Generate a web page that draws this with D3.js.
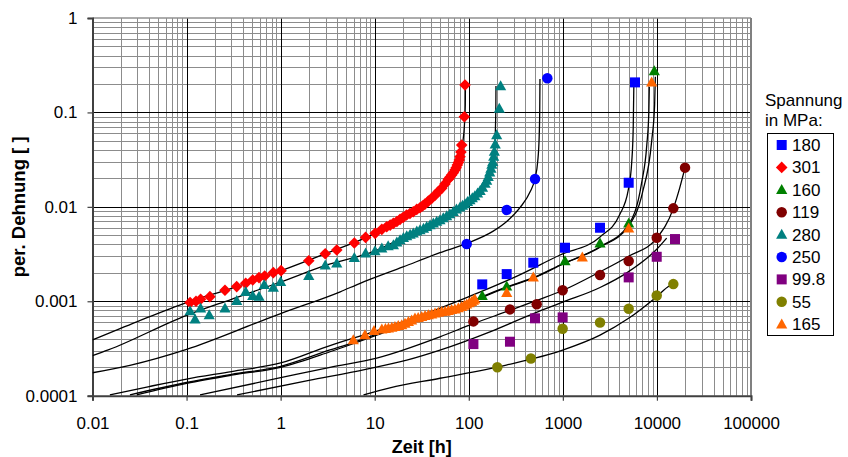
<!DOCTYPE html>
<html><head><meta charset="utf-8">
<script src="https://cdn.jsdelivr.net/npm/d3@7"></script>
<style>
body{margin:0;background:#fff}
svg{display:block}
text{font-family:"Liberation Sans",Arial,sans-serif;fill:#000}
</style>
</head><body>
<svg id="c" width="848" height="457"></svg>
<script>
// ---------- axis ticks ----------
const xTicks=[0.01,0.1,1,10,100,1000,10000,100000];
const xTickLabels=["0.01","0.1","1","10","100","1000","10000","100000"];
const yTicks=[0.0001,0.001,0.01,0.1,1];
const yTickLabels=["0.0001","0.001","0.01","0.1","1"];
const xTitle="Zeit [h]";
const yTitle="per. Dehnung [ ]";
const legendTitle=["Spannung","in MPa:"];

// ---------- series (legend order) ----------
const seriesNames=["180","301","160","119","280","250","99.8","55","165"];
const seriesColors=["#0000FF","#FF0000","#008000","#800000","#008080","#0000FF","#800080","#808000","#FF6600"];
const seriesShapes=["square","diamond","triangle","circle","triangle","circle","square","circle","triangle"];

// measured points [t (h), strain]
const pts180=[[139,0.00151],[253,0.00194],[485,0.00256],[1054,0.00369],[2484,0.00601],[5010,0.018],[5850,0.208]];
const pts301=[[0.109,0.00097],[0.126,0.001],[0.141,0.00105],[0.177,0.00112],[0.256,0.00131],[0.341,0.00143],[0.425,0.00155],[0.505,0.00168],[0.589,0.00178],[0.677,0.00185],[0.836,0.00201],[1.01,0.00211],[1.99,0.00269],[2.98,0.00319],[3.95,0.00349],[6.07,0.00414],[8.0,0.00475],[10.1,0.00524],[11.9,0.00578],[13.4,0.00615],[14.6,0.00641],[15.8,0.00669],[17.2,0.0070],[18.6,0.00737],[20.1,0.00774],[21.8,0.0082],[23.7,0.0085],[25.7,0.00887],[28,0.0094],[30.3,0.00978],[32.2,0.0102],[34.2,0.0107],[37.2,0.0115],[40.3,0.0123],[43.8,0.0133],[47.5,0.0145],[51.5,0.0157],[55.8,0.0175],[60.6,0.0196],[63,0.0206],[65.7,0.0217],[68.5,0.023],[71.3,0.0245],[73.5,0.026],[75.5,0.0277],[77.5,0.0295],[79.3,0.0313],[80.7,0.034],[82.5,0.038],[84.1,0.0451],[89.7,0.09],[91.2,0.195]];
const pts160=[[139,0.00114],[253,0.00144],[1054,0.00267],[2484,0.0041],[5010,0.00668],[9380,0.275]];
const pts119=[[112,0.000612],[274,0.00082],[527,0.00093],[995,0.00131],[2484,0.0019],[5010,0.00267],[9950,0.00471],[14940,0.00964],[19900,0.026]];
const pts280=[[0.109,0.00079],[0.123,0.000643],[0.141,0.00084],[0.174,0.000714],[0.256,0.00084],[0.341,0.00101],[0.425,0.00126],[0.505,0.00114],[0.589,0.00112],[0.669,0.00149],[0.836,0.0014],[1.0,0.00161],[1.99,0.00186],[2.98,0.0024],[3.95,0.00252],[6.07,0.00289],[8.0,0.00322],[10.07,0.0034],[11.9,0.00363],[13.9,0.00385],[15.8,0.00394],[17.2,0.0042],[18.6,0.00445],[20.2,0.0047],[21.9,0.00491],[23.8,0.0051],[25.7,0.00524],[28,0.0055],[30.3,0.00568],[33,0.0059],[35.7,0.00615],[38.8,0.0064],[42,0.00668],[45.6,0.0070],[49.4,0.00725],[53.6,0.0076],[58.2,0.008],[63,0.0084],[68.4,0.00887],[74,0.0094],[80.7,0.00987],[85.8,0.0103],[91.2,0.0107],[97,0.0113],[103,0.0118],[109,0.0124],[116,0.013],[124,0.0139],[132,0.0148],[140,0.016],[149,0.0177],[155,0.019],[161,0.0208],[167,0.0232],[172,0.0255],[176,0.028],[180,0.03],[184,0.034],[187,0.0384],[191,0.046],[198,0.0576],[211,0.11],[218,0.19]];
const pts250=[[95,0.00404],[253,0.00925],[506,0.0197],[684,0.23]];
const pts99_8=[[112,0.000352],[274,0.000373],[506,0.00066],[995,0.000675],[5010,0.00179],[9950,0.00296],[15560,0.00456]];
const pts55=[[201,0.0002],[458,0.000248],[995,0.000511],[2484,0.000597],[5010,0.000834],[9950,0.00115],[14940,0.00152]];
const pts165=[[5.92,0.000388],[7.88,0.000438],[9.82,0.000487],[11.9,0.000504],[13,0.00051],[14,0.000517],[15.2,0.000527],[16.4,0.000537],[17.8,0.00055],[19.4,0.00056],[21,0.00058],[22.8,0.000607],[24.7,0.00063],[26.8,0.000659],[29,0.00067],[31.6,0.000686],[34.3,0.0007],[37.2,0.000714],[40.4,0.00073],[43.8,0.000744],[47.5,0.00076],[51.5,0.000775],[56,0.00078],[60.6,0.000793],[65.7,0.00081],[71.3,0.00082],[77.5,0.00085],[84.1,0.000875],[89.5,0.0009],[95,0.000927],[101,0.00096],[107,0.000989],[112,0.00102],[116,0.00105],[253,0.00123],[485,0.00179],[1610,0.00292],[5010,0.00592],[8790,0.208]];

// fitted curves, knots [t, strain]
const fit180=[[0.0153,0.000102],[0.04,0.000125],[0.1,0.00015],[0.3,0.00018],[1,0.000222],[3.35,0.00034],[10,0.00048],[30,0.0007],[100,0.00112],[139,0.00128],[300,0.00178],[934,0.00309],[2484,0.0048],[4000,0.0082],[4960,0.0151],[5400,0.03],[5600,0.07],[5680,0.187]];
const fit301=[[0.01,0.00039],[0.03,0.00061],[0.1,0.00097],[0.3,0.00137],[1,0.0021],[3,0.0032],[10,0.0052],[20,0.0076],[30,0.0098],[45,0.0138],[60,0.0195],[70,0.024],[80,0.033],[86,0.047],[90,0.075],[91.8,0.12],[92.2,0.205]];
const fit160=[[0.0295,0.000102],[0.1,0.000135],[0.3,0.000165],[1,0.0002],[3.35,0.000292],[5.9,0.000355],[10,0.00043],[30,0.00064],[100,0.00096],[139,0.0011],[253,0.0014],[500,0.00178],[934,0.0024],[2484,0.00375],[4960,0.0062],[7000,0.014],[8800,0.05],[9450,0.12],[9620,0.239]];
const fit119=[[0.139,0.000102],[1,0.000155],[3.35,0.0002],[10.5,0.00025],[49.4,0.00042],[112,0.00058],[274,0.0008],[527,0.00102],[995,0.0013],[2484,0.00205],[5010,0.003],[9950,0.00466],[14940,0.00964],[17500,0.016],[19900,0.026]];
const fit280=[[0.01,0.000265],[0.0147,0.000305],[0.1,0.00071],[0.3,0.00105],[1,0.0016],[3,0.0024],[10,0.0034],[20,0.0047],[50,0.0072],[80,0.0098],[100,0.0113],[130,0.0145],[150,0.0172],[170,0.0235],[183,0.032],[189,0.045],[192.5,0.075],[194,0.12],[194.5,0.19]];
const fit250=[[0.01,0.000175],[0.025,0.00021],[0.1,0.00031],[0.6,0.00061],[1,0.00074],[4.3,0.00126],[7,0.00155],[20,0.00231],[49.4,0.00327],[95,0.0041],[180,0.0055],[253,0.007],[350,0.0098],[450,0.0145],[506,0.02],[540,0.03],[560,0.055],[568,0.11],[571,0.226]];
const fit99_8=[[0.344,0.000102],[2,0.000145],[8,0.00019],[21.9,0.000238],[49.4,0.000304],[168,0.000475],[500,0.00075],[1000,0.00098],[2484,0.0014],[4960,0.00205],[9950,0.00355],[12700,0.00466]];
const fit55=[[7.6,0.000102],[14.5,0.000121],[49.4,0.000153],[250,0.000211],[995,0.000304],[2484,0.000438],[5000,0.00066],[9950,0.00112],[13500,0.00145],[14940,0.00152]];
const fit165=[[0.025,0.000102],[0.1,0.000138],[0.3,0.000168],[1,0.000205],[3.35,0.000305],[5.9,0.000365],[10,0.00044],[30,0.00065],[100,0.00097],[139,0.00112],[253,0.00142],[500,0.0018],[934,0.00242],[2484,0.00378],[4960,0.0064],[6860,0.0177],[7800,0.045],[8200,0.1],[8300,0.187]];

const seriesPts=[pts180,pts301,pts160,pts119,pts280,pts250,pts99_8,pts55,pts165];
const seriesFits=[fit180,fit301,fit160,fit119,fit280,fit250,fit99_8,fit55,fit165];

// ---------- layout ----------
const L=92.5,R=751,T=18,B=395.7;
const x=d3.scaleLog().domain([0.01,100000]).range([L,R]);
const y=d3.scaleLog().domain([0.0001,1]).range([B,T]);
const svg=d3.select("#c");
const px=v=>Math.round(v)+0.5;

// grid
const minorX=[],minorY=[];
xTicks.slice(0,-1).forEach(d=>{for(let k=2;k<10;k++) minorX.push(d*k);});
yTicks.slice(0,-1).forEach(d=>{for(let k=2;k<10;k++) minorY.push(d*k);});
const g=svg.append("g");
g.selectAll(".mx").data(minorX).join("line")
 .attr("x1",d=>px(x(d))).attr("x2",d=>px(x(d))).attr("y1",T).attr("y2",B)
 .attr("stroke","#8c8c8c").attr("stroke-width",1);
g.selectAll(".my").data(minorY).join("line")
 .attr("y1",d=>px(y(d))).attr("y2",d=>px(y(d))).attr("x1",L).attr("x2",R)
 .attr("stroke","#8c8c8c").attr("stroke-width",1);
g.selectAll(".Mx").data(xTicks.slice(1,-1)).join("line")
 .attr("x1",d=>px(x(d))).attr("x2",d=>px(x(d))).attr("y1",T).attr("y2",B)
 .attr("stroke","#000").attr("stroke-width",1);
g.selectAll(".My").data(yTicks.slice(1,-1)).join("line")
 .attr("y1",d=>px(y(d))).attr("y2",d=>px(y(d))).attr("x1",L).attr("x2",R)
 .attr("stroke","#000").attr("stroke-width",1);
// top & right frame
svg.append("line").attr("x1",L).attr("x2",R).attr("y1",T).attr("y2",T).attr("stroke","#909090").attr("stroke-width",1.5);
svg.append("line").attr("x1",R).attr("x2",R).attr("y1",T).attr("y2",B).attr("stroke","#808080").attr("stroke-width",2);

// axes
const xa=svg.append("g").attr("transform",`translate(0,${B})`)
 .call(d3.axisBottom(x).tickValues(xTicks).tickFormat((d,i)=>xTickLabels[i]).tickSize(5).tickPadding(16));
const ya=svg.append("g").attr("transform",`translate(${L},0)`)
 .call(d3.axisLeft(y).tickValues(yTicks).tickFormat((d,i)=>yTickLabels[i]).tickSize(5).tickPadding(10));
[xa,ya].forEach(a=>{
  a.select(".domain").attr("stroke","#404040").attr("stroke-width",2);
  a.selectAll(".tick line").attr("stroke","#404040").attr("stroke-width",1.2);
  a.selectAll("text").attr("font-size",17).attr("font-family","Liberation Sans, Arial, sans-serif").attr("fill","#000");
});

// titles
svg.append("text").attr("x",(L+R)/2).attr("y",453).attr("text-anchor","middle")
 .attr("font-size",18).attr("font-weight","bold").text(xTitle);
svg.append("text").attr("transform",`translate(25,${(T+B)/2}) rotate(-90)`).attr("text-anchor","middle")
 .attr("font-size",18.5).attr("font-weight","bold").text(yTitle);

// fit curves
svg.append("clipPath").attr("id","pc").append("rect").attr("x",L).attr("y",T).attr("width",R-L).attr("height",B-T);
const line=d3.line().x(d=>x(d[0])).y(d=>y(d[1])).curve(d3.curveMonotoneX);
svg.append("g").attr("clip-path","url(#pc)").selectAll("path").data(seriesFits).join("path")
 .attr("d",line).attr("fill","none").attr("stroke","#000").attr("stroke-width",1.3);

// markers
function shapePath(s){
  if(s==="square") return "M-5,-5H5V5H-5Z";
  if(s==="diamond") return "M0,-5.8L5.8,0L0,5.8L-5.8,0Z";
  if(s==="triangle") return "M0,-5.8L5.6,4.2L-5.6,4.2Z";
  return d3.symbol(d3.symbolCircle,86)();
}
const mg=svg.append("g");
seriesPts.forEach((pts,i)=>{
  mg.append("g").selectAll("path").data(pts).join("path")
   .attr("transform",d=>`translate(${x(d[0])},${y(d[1])})`)
   .attr("d",shapePath(seriesShapes[i])).attr("fill",seriesColors[i]);
});

// legend
const lg=svg.append("g");
legendTitle.forEach((t,i)=>lg.append("text").attr("x",765).attr("y",106+i*20).attr("font-size",17).text(t));
lg.append("rect").attr("x",767.5).attr("y",133.5).attr("width",66).attr("height",202)
 .attr("fill","#fff").attr("stroke","#000").attr("stroke-width",1);
seriesNames.forEach((n,i)=>{
  const cy=145+i*22.4;
  lg.append("path").attr("transform",`translate(781.7,${cy})`).attr("d",shapePath(seriesShapes[i])).attr("fill",seriesColors[i]);
  lg.append("text").attr("x",792).attr("y",cy+6).attr("font-size",17).text(n);
});
</script>
</body></html>
